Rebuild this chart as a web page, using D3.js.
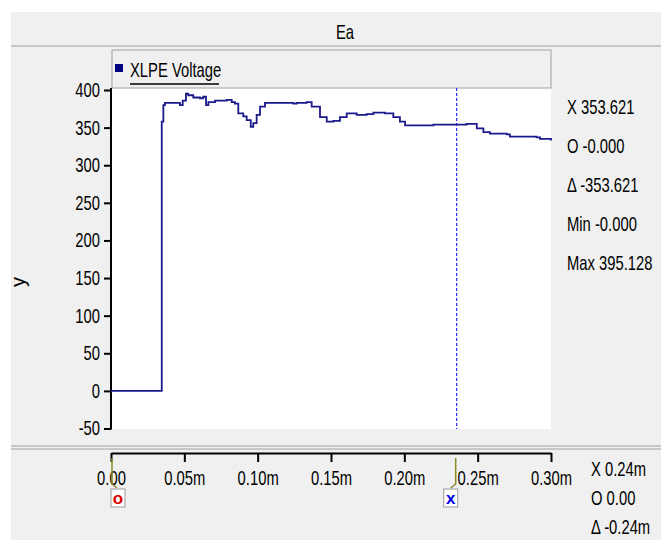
<!DOCTYPE html>
<html lang="en">
<head>
  <meta charset="UTF-8">
  <title>Ea</title>
  <script src="https://d3js.org/d3.v7.min.js"></script>
  <style>
    body { margin: 0; background: #fff; }
    svg text { font-family: "Liberation Sans", Arial, sans-serif; font-size: 20px; fill: #000; }
  </style>
</head>
<body>
  <svg width="661" height="540"></svg>

  <script>
    // time in ms, voltage
    const times = [0, 0.0344, 0.0346, 0.0357, 0.0368, 0.0414, 0.0470, 0.0489, 0.0511, 0.0527,
                   0.0561, 0.0607, 0.0629, 0.0648, 0.0664, 0.0709, 0.0789, 0.0823, 0.0845, 0.0868,
                   0.0902, 0.0925, 0.0953, 0.0970, 0.0993, 0.1016, 0.1050, 0.1243, 0.1266, 0.1334,
                   0.1368, 0.1425, 0.1471, 0.1516, 0.1561, 0.1607, 0.1675, 0.1743, 0.1789, 0.1868,
                   0.1925, 0.1970, 0.2005, 0.2175, 0.2198, 0.2334, 0.2357, 0.2425, 0.2494, 0.2539,
                   0.2584, 0.2698, 0.2720, 0.2902, 0.2925, 0.3];
    const voltage = [0, 0, 358, 380, 383, 383, 380, 386, 395, 393,
                     390, 389, 391, 380, 384, 386, 387, 384, 382, 369,
                     365, 360, 351, 356, 367, 378, 383, 382, 383, 384,
                     378, 364, 358, 359, 364, 369, 367, 368, 370, 369,
                     364, 358, 353, 353, 354, 354, 354, 355, 349, 344,
                     342, 341, 338, 337, 335, 333];
    const yTicks = [-50, 0, 50, 100, 150, 200, 250, 300, 350, 400];
    const xTicks = [0, 0.05, 0.10, 0.15, 0.20, 0.25, 0.30];
    const readout = ["X 353.621", "O -0.000", "\u0394 -353.621", "Min -0.000", "Max 395.128"];
    const xReadout = ["X 0.24m", "O 0.00", "\u0394 -0.24m"];
    const cursorX = 0.2357, cursorO = 0;

    const NARROW = 0.74; // squeeze text to look like the narrow UI font

    function narrow(sel) {
      sel.each(function() {
        const t = d3.select(this);
        const tx = +t.attr("x") || 0;
        const prev = t.attr("transform") || "";
        t.attr("x", tx / NARROW).attr("transform", prev + ` scale(${NARROW},1)`);
      });
    }

    const svg = d3.select("svg");
    const x = d3.scaleLinear().domain([0, 0.3]).range([111, 551]);
    const y = d3.scaleLinear().domain([-50, 400]).range([428.5, 90]);

    // panel backgrounds
    svg.append("rect").attr("x", 11).attr("y", 12).attr("width", 650).attr("height", 528).attr("fill", "#f0f0f0");
    svg.append("line").attr("x1", 11).attr("x2", 661).attr("y1", 46).attr("y2", 46).attr("stroke", "#c8c8c8").attr("stroke-width", 2);
    svg.append("line").attr("x1", 11).attr("x2", 661).attr("y1", 446).attr("y2", 446).attr("stroke", "#a0a0a0");
    svg.append("line").attr("x1", 11).attr("x2", 661).attr("y1", 449).attr("y2", 449).attr("stroke", "#c8c8c8").attr("stroke-width", 2);

    svg.append("text").attr("x", 345).attr("y", 39).attr("text-anchor", "middle").text("Ea").call(narrow);

    // plot area
    svg.append("rect").attr("x", x(0)).attr("y", 88).attr("width", x(0.3) - x(0)).attr("height", 341).attr("fill", "#fff");

    // legend box
    const lg = svg.append("g");
    lg.append("rect").attr("x", 112).attr("y", 50).attr("width", 439).attr("height", 38)
      .attr("fill", "#f0f0f0").attr("stroke", "#a0a0a0");
    lg.append("rect").attr("x", 115).attr("y", 64).attr("width", 8).attr("height", 8).attr("fill", "#000080");
    lg.append("text").attr("x", 130).attr("y", 77).text("XLPE Voltage").call(narrow);
    lg.append("line").attr("x1", 130).attr("x2", 219).attr("y1", 84).attr("y2", 84).attr("stroke", "#000").attr("stroke-width", 1.5);

    // y axis
    const ya = svg.append("g").attr("transform", `translate(${x(0)},0)`)
      .call(d3.axisLeft(y).tickValues(yTicks).tickSize(7).tickPadding(4).tickSizeOuter(0).tickFormat(d => String(d)));
    ya.select(".domain").attr("stroke", "#000").attr("stroke-width", 2).attr("d", `M0,88V${y(-50) + 1}`);
    ya.selectAll(".tick line").attr("stroke-width", 2);
    ya.selectAll(".tick text").attr("font-size", null).attr("font-family", null).call(narrow);

    svg.append("text").attr("transform", "translate(25,282) rotate(-90)").attr("text-anchor", "middle").text("y");

    // cursor line
    svg.append("line").attr("x1", x(cursorX)).attr("x2", x(cursorX)).attr("y1", 88).attr("y2", 429)
      .attr("stroke", "#0000ff").attr("stroke-dasharray", "3,2");

    // trace
    const pts = times.map((t, i) => [t, voltage[i]]);
    svg.append("path").datum(pts)
      .attr("fill", "none").attr("stroke", "#1a1a8c").attr("stroke-width", 1.8)
      .attr("d", d3.line().x(d => x(d[0])).y(d => y(d[1])).curve(d3.curveStepAfter));

    // readout
    svg.append("g").selectAll("text").data(readout).join("text")
      .attr("x", 567).attr("y", (d, i) => 114 + i * 39).text(d => d).call(narrow);

    // x axis
    const xa = svg.append("g").attr("transform", "translate(0,453)")
      .call(d3.axisBottom(x).tickValues(xTicks).tickSize(9).tickPadding(9).tickSizeOuter(0)
        .tickFormat(d => d === 0 ? "0.00" : d.toFixed(2) + "m"));
    xa.select(".domain").attr("stroke", "#000").attr("stroke-width", 2);
    xa.selectAll(".tick line").attr("stroke-width", 2);
    xa.selectAll(".tick text").attr("font-size", null).attr("font-family", null).call(narrow);

    // cursor markers
    function marker(t, letter, color, side) {
      const mx = x(t);
      const g = svg.append("g");
      g.append("path").attr("d", `M${mx + side},458V484l${side * 5},4`).attr("fill", "none").attr("stroke", "#8a8a2a").attr("stroke-width", 1.5);
      const bx = side > 0 ? mx : mx - 13;
      g.append("rect").attr("x", bx).attr("y", 489).attr("width", 14).attr("height", 18).attr("fill", "#fff").attr("stroke", "#999");
      g.append("text").attr("x", bx + 7).attr("y", 504).attr("text-anchor", "middle")
        .attr("font-weight", "bold").style("font-size", "17px").style("fill", color).text(letter);
    }
    marker(cursorO, "o", "#e00000", 1);
    marker(cursorX, "x", "#0000e0", -1);

    svg.append("g").selectAll("text").data(xReadout).join("text")
      .attr("x", 591).attr("y", (d, i) => 476 + i * 29).text(d => d).call(narrow);
  </script>
</body>
</html>
